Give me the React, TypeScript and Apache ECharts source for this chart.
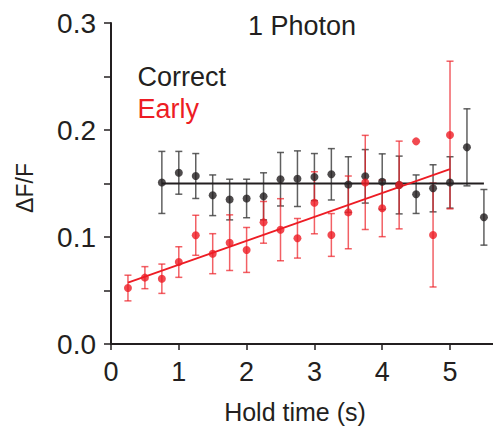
import React, { useEffect, useRef } from "react";
import * as echarts from "echarts";

// ---- data ----
const correctX = [0.75, 1.0, 1.25, 1.5, 1.75, 2.0, 2.25, 2.5, 2.75, 3.0, 3.25, 3.5, 3.75, 4.0, 4.25, 4.5, 4.75, 5.0, 5.25, 5.5];
const correctY = [0.151, 0.160, 0.157, 0.139, 0.135, 0.136, 0.138, 0.154, 0.1545, 0.156, 0.1586, 0.149, 0.1567, 0.1517, 0.1486, 0.140, 0.1455, 0.151, 0.1838, 0.1184];
const correctErr = [0.029, 0.020, 0.021, 0.019, 0.019, 0.018, 0.022, 0.025, 0.026, 0.022, 0.024, 0.026, 0.025, 0.026, 0.027, 0.018, 0.022, 0.024, 0.036, 0.026];

const earlyX = [0.25, 0.5, 0.75, 1.0, 1.25, 1.5, 1.75, 2.0, 2.25, 2.5, 2.75, 3.0, 3.25, 3.5, 3.75, 4.0, 4.25, 4.5, 4.75, 5.0];
const earlyY = [0.0523, 0.062, 0.061, 0.0766, 0.1016, 0.0844, 0.0947, 0.0879, 0.1137, 0.1068, 0.0988, 0.132, 0.1019, 0.123, 0.151, 0.1268, 0.1486, 0.1894, 0.1019, 0.1953];
const earlyErr: (number | null)[] = [0.012, 0.0103, 0.0137, 0.0143, 0.0187, 0.0187, 0.026, 0.021, 0.0195, 0.029, 0.0185, 0.029, 0.020, 0.034, 0.044, 0.0265, 0.041, null, 0.0486, 0.069];

const correctFitX = [0.75, 5.5];
const correctFitY = [0.15, 0.15];
const earlyFitX = [0.25, 5.0];
const earlyFitY = [0.0573, 0.1635];

const xTickValues = [0, 1, 2, 3, 4, 5];
const yLabelValues = [0, 0.1, 0.2, 0.3];
const yTickValues = [0, 0.05, 0.1, 0.15, 0.2, 0.25, 0.3];

const titleText = "1 Photon";
const seriesNames = ["Correct", "Early"];
const xName = "Hold time (s)";
const yName = "ΔF/F";

const INK = "#231f20";
const RED = "#ed1c24";
const FONT = "Liberation Sans, Arial, Helvetica, sans-serif";

function errData(xs: number[], ys: number[], es: (number | null)[]) {
  const out: number[][] = [];
  xs.forEach((x, i) => {
    const e = es[i];
    if (e != null) out.push([x, ys[i] - e, ys[i] + e]);
  });
  return out;
}

function makeErrRender(color: string, opacity: number) {
  return (params: any, api: any) => {
    const x = api.value(0);
    const lo = api.coord([x, api.value(1)]);
    const hi = api.coord([x, api.value(2)]);
    const cap = 3.5;
    const style = { stroke: color, lineWidth: 1.5, opacity };
    return {
      type: "group",
      children: [
        { type: "line", shape: { x1: lo[0], y1: lo[1], x2: hi[0], y2: hi[1] }, style },
        { type: "line", shape: { x1: hi[0] - cap, y1: hi[1], x2: hi[0] + cap, y2: hi[1] }, style },
        { type: "line", shape: { x1: lo[0] - cap, y1: lo[1], x2: lo[0] + cap, y2: lo[1] }, style },
      ],
    };
  };
}

export default function App() {
  const ref = useRef<HTMLDivElement>(null);
  useEffect(() => {
    if (!ref.current) return;
    const chart = echarts.init(ref.current, null, { renderer: "svg" });
    const option: any = {
      animation: false,
      backgroundColor: "#ffffff",
      title: {
        text: titleText,
        left: 248,
        top: 12,
        padding: 0,
        textStyle: { fontFamily: FONT, fontSize: 27, fontWeight: "normal", color: INK },
      },
      graphic: [
        {
          type: "text",
          x: 137.5,
          y: 77,
          style: { text: seriesNames[0], font: `27px ${FONT}`, fill: INK, verticalAlign: "middle", align: "left" },
        },
        {
          type: "text",
          x: 137.5,
          y: 108.7,
          style: { text: seriesNames[1], font: `27px ${FONT}`, fill: RED, verticalAlign: "middle", align: "left" },
        },
      ],
      grid: { left: 111, top: 23, width: 382, height: 321, containLabel: false, outerBoundsMode: "none" },
      xAxis: {
        type: "value",
        min: 0,
        max: 5.634,
        name: xName,
        nameLocation: "middle",
        nameGap: 55,
        nameTextStyle: { fontFamily: FONT, fontSize: 25, color: INK, padding: [0, 14, 0, 0] },
        axisLine: { show: true, lineStyle: { color: INK, width: 2 } },
        axisTick: { show: true, customValues: xTickValues, length: 6, lineStyle: { color: INK, width: 1.5 } },
        axisLabel: { customValues: xTickValues, fontFamily: FONT, fontSize: 27, color: INK, margin: 14 },
        splitLine: { show: false },
      },
      yAxis: {
        type: "value",
        min: 0,
        max: 0.3,
        name: yName,
        nameLocation: "middle",
        nameGap: 75,
        nameTextStyle: { fontFamily: FONT, fontSize: 23, color: INK, padding: [0, 9, 0, 0] },
        axisLine: { show: true, lineStyle: { color: INK, width: 2 } },
        axisTick: { show: true, customValues: yTickValues, length: 7, lineStyle: { color: INK, width: 1.5 } },
        axisLabel: {
          customValues: yLabelValues,
          fontFamily: FONT,
          fontSize: 28,
          color: INK,
          margin: 15,
          formatter: (v: number) => v.toFixed(1),
        },
        splitLine: { show: false },
      },
      series: [
        {
          type: "custom",
          name: "Correct error",
          renderItem: makeErrRender("#444444", 0.85),
          data: errData(correctX, correctY, correctErr),
          encode: { x: 0, y: [1, 2] },
          z: 1,
          silent: true,
        },
        {
          type: "custom",
          name: "Early error",
          renderItem: makeErrRender(RED, 0.7),
          data: errData(earlyX, earlyY, earlyErr),
          encode: { x: 0, y: [1, 2] },
          z: 2,
          silent: true,
        },
        {
          type: "line",
          name: "Correct fit",
          data: correctFitX.map((x, i) => [x, correctFitY[i]]),
          showSymbol: false,
          symbol: "none",
          lineStyle: { color: INK, width: 2 },
          z: 3,
        },
        {
          type: "line",
          name: "Early fit",
          data: earlyFitX.map((x, i) => [x, earlyFitY[i]]),
          showSymbol: false,
          symbol: "none",
          lineStyle: { color: RED, width: 1.8 },
          z: 3,
        },
        {
          type: "scatter",
          name: seriesNames[0],
          data: correctX.map((x, i) => [x, correctY[i]]),
          symbol: "circle",
          symbolSize: 8,
          itemStyle: { color: INK },
          z: 4,
        },
        {
          type: "scatter",
          name: seriesNames[1],
          data: earlyX.map((x, i) => [x, earlyY[i]]),
          symbol: "circle",
          symbolSize: 8,
          itemStyle: { color: RED },
          z: 5,
        },
      ],
    };
    chart.setOption(option);
    return () => chart.dispose();
  }, []);
  return (
    <div
      ref={ref}
      style={{ position: "fixed", left: 0, top: 0, width: 493, height: 433, background: "#fff" }}
    />
  );
}
